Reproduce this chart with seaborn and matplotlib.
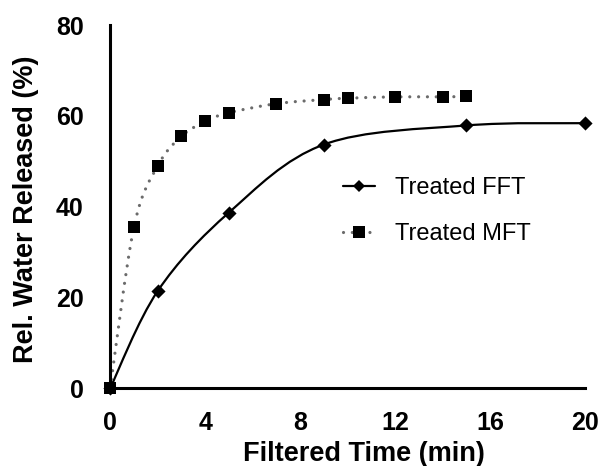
import numpy as np
import matplotlib
matplotlib.use("Agg")
import matplotlib.pyplot as plt
from matplotlib.path import Path
from matplotlib.patches import PathPatch
from matplotlib.lines import Line2D
import seaborn as sns

# ---- data ----
fft_time = [0, 2, 5, 9, 15, 20]
fft_water = [0.0, 21.4, 38.7, 53.7, 57.9, 58.4]
mft_time = [0, 1, 2, 3, 4, 5, 7, 9, 10, 12, 14, 15]
mft_water = [0.0, 35.5, 49.0, 55.5, 58.8, 60.7, 62.7, 63.6, 63.9, 64.2, 64.2, 64.3]
series_labels = ["Treated FFT", "Treated MFT"]
x_ticks = [0, 4, 8, 12, 16, 20]
y_ticks = [0, 20, 40, 60, 80]

sns.set_theme(style="white")
plt.rcParams["font.family"] = ["Liberation Sans", "DejaVu Sans"]
plt.rcParams["text.color"] = "black"
plt.rcParams["axes.labelcolor"] = "black"
plt.rcParams["xtick.color"] = "black"
plt.rcParams["ytick.color"] = "black"
plt.rcParams["xtick.labelcolor"] = "black"
plt.rcParams["ytick.labelcolor"] = "black"


def smooth_path(xs, ys):
    """Catmull-Rom style Bezier path through the data points (like Excel smoothed lines)."""
    pts = np.column_stack([xs, ys]).astype(float)
    n = len(pts)
    verts = [pts[0]]
    codes = [Path.MOVETO]
    for i in range(n - 1):
        p0 = pts[i - 1] if i > 0 else pts[i]
        p1 = pts[i]
        p2 = pts[i + 1]
        p3 = pts[i + 2] if i + 2 < n else pts[i + 1]
        c1 = p1 + (p2 - p0) / 6.0
        c2 = p2 - (p3 - p1) / 6.0
        verts += [c1, c2, p2]
        codes += [Path.CURVE4] * 3
    return Path(verts, codes)


fig = plt.figure(figsize=(6.02, 4.66), dpi=100)
ax = fig.add_axes([0.183, 0.167, 0.789, 0.779])

fft_color = "black"
mft_line_color = "#6b6b6b"

# smoothed lines
ax.add_patch(PathPatch(smooth_path(fft_time, fft_water), facecolor="none",
                       edgecolor=fft_color, lw=1.6, zorder=2))
ax.add_patch(PathPatch(smooth_path(mft_time, mft_water), facecolor="none",
                       edgecolor=mft_line_color, lw=2.3, linestyle=(0, (0.01, 2.75)),
                       capstyle="round", zorder=2))

# markers through seaborn
sns.scatterplot(x=fft_time, y=fft_water, marker="D", s=52, color="black",
                edgecolor="black", linewidth=0, ax=ax, zorder=4, clip_on=False)
sns.scatterplot(x=mft_time, y=mft_water, marker="s", s=78, color="black",
                edgecolor="black", linewidth=0, ax=ax, zorder=4, clip_on=False)

ax.set_xlim(0, 20)
ax.set_ylim(0, 80)
ax.set_xticks(x_ticks)
ax.set_yticks(y_ticks)
ax.set_xticklabels([str(t) for t in x_ticks], fontsize=18, fontweight="bold", color="black")
ax.set_yticklabels([str(t) for t in y_ticks], fontsize=18, fontweight="bold", color="black")

for side in ["top", "right"]:
    ax.spines[side].set_visible(False)
for side in ["left", "bottom"]:
    ax.spines[side].set_color("black")
    ax.spines[side].set_linewidth(2.2)
ax.tick_params(axis="y", direction="out", length=6, width=2, color="black", pad=13)
ax.tick_params(axis="x", direction="out", length=4, width=2, color="black", pad=12.5)

ax.set_xlabel("Filtered Time (min)", fontsize=19.5, fontweight="bold", labelpad=4.5,
              color="black")
ax.set_ylabel("Rel. Water Released (%)", fontsize=19.5, fontweight="bold", labelpad=12.5,
              color="black")
ax.xaxis.label.set_x(0.535)
ax.yaxis.label.set_y(0.492)

handles = [
    Line2D([], [], color=fft_color, lw=1.6, marker="D", markersize=6.2,
           markerfacecolor="black", markeredgewidth=0),
    Line2D([], [], color=mft_line_color, lw=2.3, linestyle=(0, (0.01, 2.75)),
           dash_capstyle="round", marker="s", markersize=8.8,
           markerfacecolor="black", markeredgewidth=0),
]
leg = ax.legend(handles, series_labels, loc="center left",
                bbox_to_anchor=(343 / 602, 1 - 211 / 466), bbox_transform=fig.transFigure,
                frameon=False, fontsize=17, handlelength=1.36, handletextpad=0.85,
                labelspacing=1.03, borderpad=0, borderaxespad=0)
for t in leg.get_texts():
    t.set_color("black")

fig.savefig("out.png", dpi=100)
